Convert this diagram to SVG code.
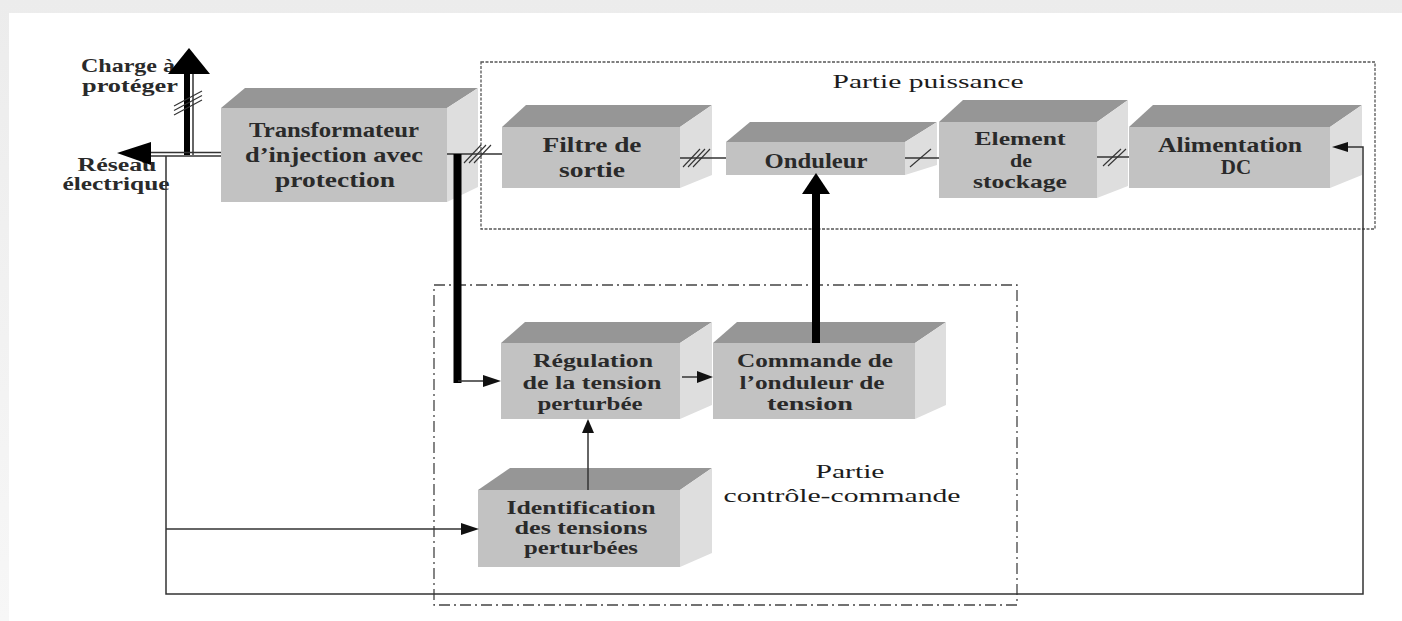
<svg xmlns="http://www.w3.org/2000/svg" width="1402" height="621" viewBox="0 0 1402 621">
<defs>
<linearGradient id="bgTop" x1="0" y1="0" x2="0" y2="1"><stop offset="0" stop-color="#ececec"/><stop offset="1" stop-color="#f7f7f7"/></linearGradient>
</defs>
<style>
.front{fill:#c2c2c2}
.top{fill:#969696}
.side{fill:#dedede}
.lbl{font-family:"Liberation Serif","Times New Roman",serif;font-weight:bold;fill:#2a2a2a;text-anchor:middle}
.plain{font-family:"Liberation Serif","Times New Roman",serif;fill:#1c1c1c;text-anchor:middle}
.thin{stroke:#333;stroke-width:1.5;fill:none}
.hash{stroke:#333;stroke-width:1.1;fill:none}
.thick{stroke:#000;stroke-width:8;fill:none}
</style>
<rect x="0" y="0" width="1402" height="621" fill="url(#bgTop)"/>
<rect x="9" y="13" width="1393" height="608" fill="#ffffff"/>

<g id="zones">
<rect x="481" y="62" width="894" height="167" fill="none" stroke="#555" stroke-width="1.3" stroke-dasharray="3 1.5"/>
<text class="plain" x="928" y="88" font-size="19" textLength="191" lengthAdjust="spacingAndGlyphs">Partie puissance</text>
<rect x="434" y="285" width="583" height="320" fill="none" stroke="#444" stroke-width="1.3" stroke-dasharray="11 4 2 4"/>
<text class="plain" x="850" y="478" font-size="19" textLength="69" lengthAdjust="spacingAndGlyphs">Partie</text>
<text class="plain" x="842" y="502" font-size="19" textLength="237" lengthAdjust="spacingAndGlyphs">contrôle-commande</text>
</g>

<g id="labels-ext">
<text class="lbl" x="128" y="72" font-size="19" textLength="94" lengthAdjust="spacingAndGlyphs">Charge à</text>
<text class="lbl" x="130" y="92" font-size="19" textLength="96" lengthAdjust="spacingAndGlyphs">protéger</text>
<text class="lbl" x="117" y="171" font-size="18" textLength="79" lengthAdjust="spacingAndGlyphs">Réseau</text>
<text class="lbl" x="116" y="190" font-size="18" textLength="107" lengthAdjust="spacingAndGlyphs">électrique</text>
</g>

<g id="transformateur">
<polygon class="top" points="221,108 245,88 478,88 447,108"/>
<polygon class="side" points="447,108 478,88 478,187 447,202"/>
<rect class="front" x="221" y="108" width="226" height="94"/>
<text class="lbl" x="334" y="137" font-size="21" textLength="170" lengthAdjust="spacingAndGlyphs">Transformateur</text>
<text class="lbl" x="334" y="162" font-size="21" textLength="178" lengthAdjust="spacingAndGlyphs">d’injection avec</text>
<text class="lbl" x="335" y="187" font-size="21" textLength="120" lengthAdjust="spacingAndGlyphs">protection</text>
</g>

<g id="filtre">
<polygon class="top" points="502,127 526,105 712,105 680,127"/>
<polygon class="side" points="680,127 712,105 712,175 680,188"/>
<rect class="front" x="502" y="127" width="178" height="61"/>
<text class="lbl" x="592" y="152" font-size="21" textLength="99" lengthAdjust="spacingAndGlyphs">Filtre de</text>
<text class="lbl" x="592" y="177" font-size="21" textLength="66" lengthAdjust="spacingAndGlyphs">sortie</text>
</g>

<g id="onduleur">
<polygon class="top" points="726,142 750,122 937,122 905,142"/>
<polygon class="side" points="905,142 937,122 937,165 905,175"/>
<rect class="front" x="726" y="142" width="179" height="33"/>
<text class="lbl" x="816" y="168" font-size="20" textLength="103" lengthAdjust="spacingAndGlyphs">Onduleur</text>
</g>

<g id="element">
<polygon class="top" points="939,122 963,100 1128,100 1097,122"/>
<polygon class="side" points="1097,122 1128,100 1128,186 1097,198"/>
<rect class="front" x="939" y="122" width="158" height="76"/>
<text class="lbl" x="1020" y="145" font-size="19" textLength="91" lengthAdjust="spacingAndGlyphs">Element</text>
<text class="lbl" x="1021" y="167" font-size="19" textLength="22" lengthAdjust="spacingAndGlyphs">de</text>
<text class="lbl" x="1020" y="188" font-size="19" textLength="94" lengthAdjust="spacingAndGlyphs">stockage</text>
</g>

<g id="alimentation">
<polygon class="top" points="1129,127 1153,105 1362,105 1330,127"/>
<polygon class="side" points="1330,127 1362,105 1362,175 1330,188"/>
<rect class="front" x="1129" y="127" width="201" height="61"/>
<text class="lbl" x="1230" y="152" font-size="20" textLength="144" lengthAdjust="spacingAndGlyphs">Alimentation</text>
<text class="lbl" x="1236" y="174" font-size="21">DC</text>
</g>

<g id="regulation">
<polygon class="top" points="501,343 525,322 712,322 680,343"/>
<polygon class="side" points="680,343 712,322 712,405 680,419"/>
<rect class="front" x="501" y="343" width="179" height="76"/>
<text class="lbl" x="593" y="367" font-size="19" textLength="120" lengthAdjust="spacingAndGlyphs">Régulation</text>
<text class="lbl" x="592" y="389" font-size="19" textLength="139" lengthAdjust="spacingAndGlyphs">de la tension</text>
<text class="lbl" x="590" y="410" font-size="19" textLength="105" lengthAdjust="spacingAndGlyphs">perturbée</text>
</g>

<g id="commande">
<polygon class="top" points="713,343 737,322 946,322 915,343"/>
<polygon class="side" points="915,343 946,322 946,405 915,419"/>
<rect class="front" x="713" y="343" width="202" height="76"/>
<text class="lbl" x="815" y="367" font-size="19" textLength="156" lengthAdjust="spacingAndGlyphs">Commande de</text>
<text class="lbl" x="812" y="389" font-size="19" textLength="145" lengthAdjust="spacingAndGlyphs">l’onduleur de</text>
<text class="lbl" x="810" y="410" font-size="19" textLength="86" lengthAdjust="spacingAndGlyphs">tension</text>
</g>

<g id="identification">
<polygon class="top" points="478,490 510,468 712,468 680,490"/>
<polygon class="side" points="680,490 712,468 712,553 680,567"/>
<rect class="front" x="478" y="490" width="202" height="77"/>
<text class="lbl" x="581" y="514" font-size="18" textLength="149" lengthAdjust="spacingAndGlyphs">Identification</text>
<text class="lbl" x="581" y="534" font-size="18" textLength="133" lengthAdjust="spacingAndGlyphs">des tensions</text>
<text class="lbl" x="581" y="554" font-size="18" textLength="114" lengthAdjust="spacingAndGlyphs">perturbées</text>
</g>

<g id="connectors">
<!-- charge (vertical double line with thick arrow) -->
<line x1="187" y1="155" x2="187" y2="72" stroke="#000" stroke-width="6"/>
<line x1="193" y1="155" x2="193" y2="72" stroke="#333" stroke-width="1.5"/>
<polygon points="189,48 168,74 210,74" fill="#000"/>
<g class="hash"><line x1="174" y1="106" x2="202" y2="91"/><line x1="174" y1="110.5" x2="202" y2="95.5"/><line x1="174" y1="115" x2="202" y2="100"/></g>
<!-- reseau (horizontal double line) -->
<line x1="221" y1="152.5" x2="148" y2="152.5" stroke="#333" stroke-width="1.5"/>
<line x1="221" y1="156" x2="148" y2="156" stroke="#333" stroke-width="1.5"/>
<polygon points="117,153 151,142 151,165" fill="#000"/>
<!-- feedback loop -->
<polyline class="thin" points="166,156 166,594 1363,594 1363,147 1347,147"/>
<polygon points="1332,147 1348,142 1348,152" fill="#111"/>
<line class="thin" x1="166" y1="529" x2="462" y2="529"/>
<polygon points="479,529 461,523 461,535" fill="#111"/>
<!-- transfo -> filtre -->
<line class="thin" x1="447" y1="154" x2="502" y2="154"/>
<g class="hash"><line x1="464" y1="163" x2="481" y2="145"/><line x1="469" y1="163" x2="486" y2="145"/><line x1="474" y1="163" x2="491" y2="145"/></g>
<!-- thick down to regulation -->
<polyline class="thick" points="457.5,154 457.5,383"/>
<line class="thin" x1="458" y1="381" x2="485" y2="381"/>
<polygon points="501,381 483,375 483,387" fill="#111"/>
<!-- filtre -> onduleur -->
<line class="thin" x1="680" y1="158" x2="726" y2="158"/>
<g class="hash"><line x1="683" y1="167" x2="700" y2="149"/><line x1="688" y1="167" x2="705" y2="149"/><line x1="693" y1="167" x2="710" y2="149"/></g>
<!-- onduleur -> element -->
<line class="thin" x1="905" y1="158" x2="939" y2="158"/>
<line class="hash" x1="910" y1="167" x2="931" y2="149"/>
<!-- element -> alimentation -->
<line class="thin" x1="1097" y1="157" x2="1129" y2="157"/>
<g class="hash"><line x1="1103" y1="166" x2="1121" y2="149"/><line x1="1108" y1="166" x2="1126" y2="149"/></g>
<!-- commande -> onduleur (thick) -->
<line class="thick" x1="816" y1="343" x2="816" y2="191"/>
<polygon points="816,173 802,194 830,194" fill="#000"/>
<!-- regulation -> commande -->
<line class="thin" x1="682" y1="377" x2="700" y2="377"/>
<polygon points="713,377 697,371 697,383" fill="#111"/>
<!-- identification -> regulation -->
<line class="thin" x1="588" y1="490" x2="588" y2="430"/>
<polygon points="588,419 582,433 594,433" fill="#111"/>
</g>
</svg>
